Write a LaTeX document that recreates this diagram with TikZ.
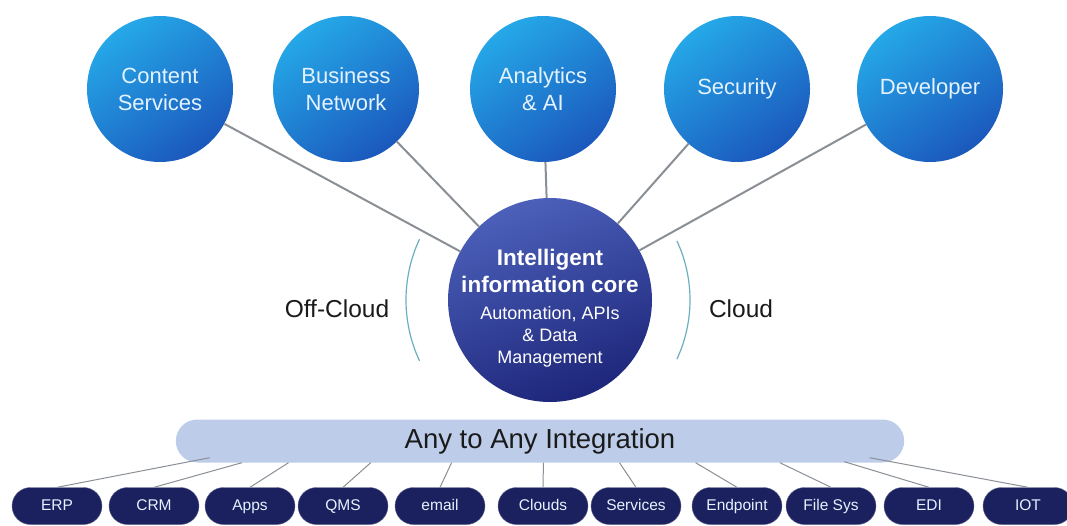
\documentclass[tikz,border=0pt]{standalone}
\usepackage{fontspec}
\setmainfont{Liberation Sans}
\usepackage{tikz}
\usetikzlibrary{positioning,shapes.misc,calc}
\definecolor{skyhi}{HTML}{25A8E8}
\definecolor{skylo}{HTML}{1B58BC}
\definecolor{corehi}{HTML}{4C60BA}
\definecolor{corelo}{HTML}{1D267A}
\definecolor{barfill}{HTML}{BDCCE9}
\definecolor{navy}{HTML}{1A215E}
\definecolor{wire}{HTML}{8A8F95}
\definecolor{arcink}{HTML}{6AAFC0}
\definecolor{ink}{HTML}{1A1A1A}
\definecolor{pale}{HTML}{E4F3FF}
\newcommand{\corehead}{\fontsize{22.5}{28}\selectfont\bfseries}

\begin{document}
\begin{tikzpicture}[
  x=1pt, y=-1pt,
  service/.style={circle, minimum size=146pt, inner sep=0pt, align=center, text=pale,
    top color=skyhi, bottom color=skylo, shading angle=35,
    font=\fontsize{22}{27}\selectfont},
  core/.style={circle, minimum size=204pt, inner sep=0pt,
    top color=corehi, bottom color=corelo, shading angle=20},
  coretext/.style={align=center, text=white, inner sep=0pt,
    font=\fontsize{18}{22}\selectfont},
  source/.style={rounded rectangle, minimum width=90pt, minimum height=37pt, inner sep=0pt,
    text height=11pt, text depth=3pt,
    fill=navy, draw=navy!70!white, text=pale, font=\fontsize{15.5}{17}\selectfont},
  spoke/.style={draw=wire, line width=2pt},
  feed/.style={draw=wire, line width=1pt},
  side/.style={draw=arcink, line width=1.2pt},
  lbl/.style={text=ink, font=\fontsize{24.5}{28}\selectfont}
]
\useasboundingbox (0,0) rectangle (1067,525);

% outer services
\foreach \nm/\px/\txt in {cont/160/{Content\\Services}, busi/346/{Business\\Network},
    anal/543/{Analytics\\\& AI}, secu/737/{Security}, devl/930/{Developer}}
  \node[service] (\nm) at (\px,89) {\txt};

% core
\node[core] (core) at (550,300) {};
\node[coretext] (coretxt) at (550,308)
  {\corehead Intelligent\\[5pt]\corehead information core\\[5pt]Automation, APIs\\\& Data\\Management};

\foreach \nm in {cont,busi,anal,secu,devl}
  \draw[spoke] (\nm) -- (core);

% cloud sides
\draw[side] ([shift={(155:144)}]core.center) arc[start angle=155, end angle=205, radius=144];
\draw[side] ([shift={(25:140)}]core.center) arc[start angle=25, end angle=-25, radius=140];
\node[lbl] (off) at (337,309) {Off-Cloud};
\node[lbl] (cld) at (741,309) {Cloud};

% integration bar
\node[rounded rectangle, minimum width=735pt, minimum height=43pt, fill=barfill,
  text=ink, font=\fontsize{27.5}{30}\selectfont] (integ) at (540,441) {Any to Any Integration};

% sources
\foreach \nm/\px/\txt in {erp/57/ERP, crm/154/CRM, apps/250/Apps, qms/343/QMS,
    mail/440/email, clds/543/Clouds, serv/636/Services, endp/737/Endpoint,
    fsys/831/File Sys, edi/929/EDI, iot/1028/IOT}
  \node[source] (\nm) at (\px,506) {\txt};

\foreach \nm/\f/\dy in {erp/0.018/-5, crm/0.065/0, apps/0.133/0, qms/0.253/0, mail/0.371/0,
    clds/0.505/0, serv/0.616/0, endp/0.727/0, fsys/0.850/0, edi/0.944/-1, iot/0.981/-5}
  \draw[feed] ($(integ.south west)!\f!(integ.south east)+(0,\dy)$) -- (\nm.north);
\end{tikzpicture}
\end{document}
